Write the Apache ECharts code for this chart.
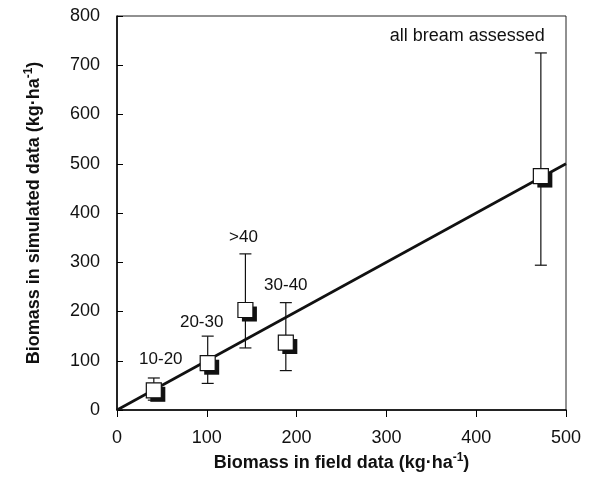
<!DOCTYPE html>
<html>
<head>
<meta charset="utf-8">
<script src="https://cdn.jsdelivr.net/npm/echarts@6/dist/echarts.min.js"></script>
<style>
  html, body { margin: 0; padding: 0; background: #fff; }
  #chart { width: 597px; height: 497px; }
</style>
</head>
<body>
<div id="chart"></div>
<script>
// size classes
var groups = ['10-20', '20-30', '>40', '30-40', 'all bream assessed'];
var fieldBiomass = [41, 101, 143, 188, 472];
var simBiomass = [40, 95, 203, 137, 475];
var simHigh = [65, 150, 317, 218, 725];
var simLow = [20, 54, 126, 80, 294];
var oneToOne = [[0, 0], [500, 500]];

// label placement relative to the top of each error bar (pixels)
var labelDx = [7, -6, -2, 0, 4];
var labelGap = [10, 5, 8, 9, 8];
var labelAlign = ['center', 'center', 'center', 'center', 'right'];
var labelSize = [17, 17, 17, 17, 18];

var font = '"Liberation Sans", Arial, Helvetica, sans-serif';

var points = fieldBiomass.map(function (x, i) { return [x, simBiomass[i]]; });
var bars = fieldBiomass.map(function (x, i) { return [x, simLow[i], simHigh[i], i]; });

var supRich = {
  a: { fontSize: 18, fontWeight: 'bold', fontFamily: font, color: '#111' },
  s: { fontSize: 12, fontWeight: 'bold', fontFamily: font, color: '#111', padding: [0, 0, 10, 0] }
};

var chart = echarts.init(document.getElementById('chart'));

chart.setOption({
  animation: false,
  grid: {
    left: 117, right: 31, top: 16, bottom: 87,
    show: true, borderColor: '#222', borderWidth: 1
  },
  xAxis: {
    type: 'value', min: 0, max: 500, interval: 100,
    splitLine: { show: false },
    axisLine: { lineStyle: { color: '#000', width: 1.5 } },
    axisTick: { inside: false, length: 7, lineStyle: { color: '#000' } },
    axisLabel: { color: '#111', fontSize: 18, fontFamily: font, margin: 19 },
    name: '{a|Biomass in field data (kg·ha}{s|-1}{a|)}',
    nameLocation: 'middle',
    nameGap: 36,
    nameTextStyle: { rich: supRich }
  },
  yAxis: {
    type: 'value', min: 0, max: 800, interval: 100,
    splitLine: { show: false },
    axisLine: { lineStyle: { color: '#000', width: 1.5 } },
    axisTick: { inside: true, length: 6, lineStyle: { color: '#000' } },
    axisLabel: { color: '#111', fontSize: 18, fontFamily: font, margin: 17 },
    name: '{a|Biomass in simulated data (kg·ha}{s|-1}{a|)}',
    nameLocation: 'middle',
    nameGap: 72,
    nameTextStyle: { rich: supRich }
  },
  series: [
    {
      type: 'line',
      data: oneToOne,
      symbol: 'none',
      lineStyle: { color: '#111', width: 2.6 },
      z: 2
    },
    {
      type: 'custom',
      data: bars,
      z: 3,
      renderItem: function (params, api) {
        var x = api.value(0);
        var lo = api.coord([x, api.value(1)]);
        var hi = api.coord([x, api.value(2)]);
        var i = api.value(3);
        var cap = 6;
        var st = { stroke: '#111', lineWidth: 1.2 };
        return {
          type: 'group',
          children: [
            { type: 'line', shape: { x1: hi[0], y1: hi[1], x2: lo[0], y2: lo[1] }, style: st },
            { type: 'line', shape: { x1: hi[0] - cap, y1: hi[1], x2: hi[0] + cap, y2: hi[1] }, style: st },
            { type: 'line', shape: { x1: lo[0] - cap, y1: lo[1], x2: lo[0] + cap, y2: lo[1] }, style: st },
            {
              type: 'text',
              x: hi[0] + labelDx[i],
              y: hi[1] - labelGap[i],
              style: {
                text: groups[i],
                fontSize: labelSize[i],
                fontFamily: font,
                fill: '#111',
                align: labelAlign[i],
                verticalAlign: 'bottom'
              }
            }
          ]
        };
      }
    },
    {
      // drop shadow of the squares
      type: 'scatter',
      data: points,
      symbol: 'rect',
      symbolSize: 15,
      symbolOffset: [4, 4],
      z: 4,
      itemStyle: { color: '#111', opacity: 1 }
    },
    {
      type: 'scatter',
      data: points,
      symbol: 'rect',
      symbolSize: 15,
      z: 5,
      itemStyle: { color: '#fff', borderColor: '#111', borderWidth: 1.2, opacity: 1 }
    }
  ]
});
</script>
</body>
</html>
